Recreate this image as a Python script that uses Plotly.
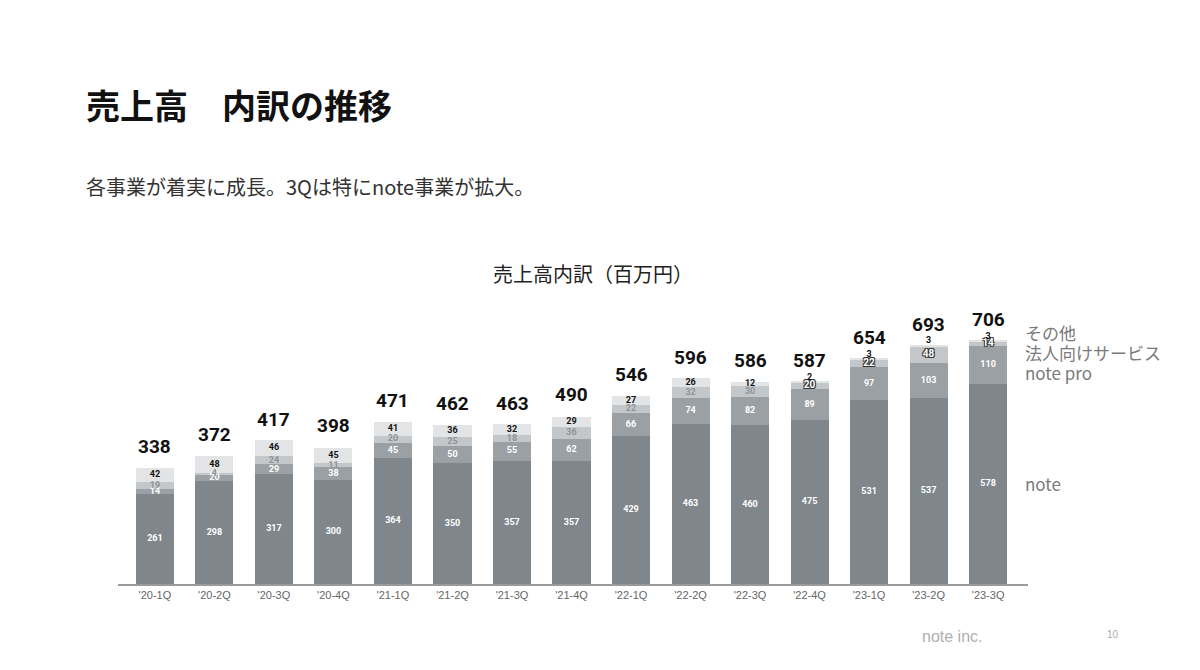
import plotly.graph_objects as go

quarters = ["'20-1Q", "'20-2Q", "'20-3Q", "'20-4Q", "'21-1Q", "'21-2Q", "'21-3Q", "'21-4Q",
            "'22-1Q", "'22-2Q", "'22-3Q", "'22-4Q", "'23-1Q", "'23-2Q", "'23-3Q"]
note = [261, 298, 317, 300, 364, 350, 357, 357, 429, 463, 460, 475, 531, 537, 578]
note_pro = [14, 20, 29, 38, 45, 50, 55, 62, 66, 74, 82, 89, 97, 103, 110]
corporate = [19, 4, 24, 11, 20, 25, 18, 36, 22, 32, 30, 20, 22, 48, 14]
other = [42, 48, 46, 45, 41, 36, 32, 29, 27, 26, 12, 2, 3, 3, 3]
totals = [338, 372, 417, 398, 471, 462, 463, 490, 546, 596, 586, 587, 654, 693, 706]

series_names = ["note", "note pro", "法人向けサービス", "その他"]
series_vals = [note, note_pro, corporate, other]
colors = ["#7f878c", "#9aa0a4", "#c4c7c9", "#e3e4e5"]

NUM_FONT = "Roboto"
JP_FONT = "Noto Sans CJK JP"

# page offset (browser body margin) and figure size
OFF = 8
W = 1200 - 2 * OFF
H = 670 - 2 * OFF


def px_x(p):
    return (p - OFF) / W


def px_y(p):
    return 1 - (p - OFF) / H


fig = go.Figure()

for name, vals, col in zip(series_names, series_vals, colors):
    fig.add_trace(go.Bar(x=quarters, y=vals, name=name, marker=dict(color=col, line=dict(width=0)),
                         hoverinfo="skip"))

# segment labels at segment midpoints
label_colors = ["#ffffff", "#ffffff", "#8e9397", "#111111"]
base = [0] * len(quarters)
mids_all = []
for vals in series_vals:
    mids = [b + v / 2 for b, v in zip(base, vals)]
    mids_all.append(mids)
    base = [b + v for b, v in zip(base, vals)]

OUTLINE = "1px 1px 0 #333, -1px -1px 0 #333, 1px -1px 0 #333, -1px 1px 0 #333"
split = 11
for i, (vals, mids, lc) in enumerate(zip(series_vals, mids_all, label_colors)):
    if i == 2:
        fig.add_trace(go.Scatter(x=quarters[:split], y=mids[:split], mode="text",
                                 text=[str(v) for v in vals[:split]],
                                 textfont=dict(family=NUM_FONT, size=9, color=lc, weight="bold"),
                                 hoverinfo="skip", showlegend=False))
        fig.add_trace(go.Scatter(x=quarters[split:], y=mids[split:], mode="text",
                                 text=[str(v) for v in vals[split:]],
                                 textfont=dict(family=NUM_FONT, size=10, color="#ffffff", weight="bold",
                                               shadow=OUTLINE),
                                 hoverinfo="skip", showlegend=False))
    elif i == 3:
        fig.add_trace(go.Scatter(x=quarters, y=mids, mode="text",
                                 text=[str(v) for v in vals],
                                 textposition=["middle center"] * split + ["top center"] * (len(quarters) - split),
                                 textfont=dict(family=NUM_FONT, size=9, color=lc, weight="bold"),
                                 hoverinfo="skip", showlegend=False))
    else:
        fig.add_trace(go.Scatter(x=quarters, y=mids, mode="text",
                                 text=[str(v) for v in vals],
                                 textfont=dict(family=NUM_FONT, size=9, color=lc, weight="bold"),
                                 hoverinfo="skip", showlegend=False))

for q, t in zip(quarters, totals):
    fig.add_annotation(x=q, y=t, xref="x", yref="y", text=str(t), showarrow=False,
                       yanchor="bottom", yshift=7,
                       font=dict(family=NUM_FONT, size=19, color="#111111", weight="bold"))

BASE_PX = 584
TOP_PX = 300
PX_PER_UNIT = 0.3456

fig.update_layout(
    width=W, height=H,
    margin=dict(l=0, r=0, t=0, b=0),
    plot_bgcolor="white", paper_bgcolor="white",
    barmode="stack", bargap=0.36,
    showlegend=False,
    xaxis=dict(domain=[px_x(118), px_x(1028)], range=[-0.62, 14.67], showline=True,
               linecolor="#9a9a9a", linewidth=1.5, ticks="", showgrid=False, zeroline=False,
               tickfont=dict(family="Liberation Sans", size=11, color="#666666"),
               fixedrange=True),
    yaxis=dict(domain=[px_y(BASE_PX), px_y(TOP_PX)], range=[0, (BASE_PX - TOP_PX) / PX_PER_UNIT],
               visible=False, showgrid=False, zeroline=False, fixedrange=True),
)

# right-side series labels
side_labels = [("その他", 332), ("法人向けサービス", 352), ("note pro", 372), ("note", 483)]
for txt, py in side_labels:
    fig.add_annotation(x=px_x(1023), y=px_y(py), xref="paper", yref="paper", text=txt,
                       showarrow=False, xanchor="left", yanchor="middle",
                       font=dict(family=JP_FONT, size=17, color="#7a7a7a"))

# page texts
page_texts = [
    ("売上高　内訳の推移", 84, 105, 34, "#111111", "bold", JP_FONT, "left"),
    ("各事業が着実に成長。3Qは特にnote事業が拡大。", 84, 187, 20, "#333333", "normal", JP_FONT, "left"),
    ("売上高内訳（百万円）", 593, 274, 20, "#222222", "normal", JP_FONT, "center"),
    ("note inc.", 952, 636, 16, "#b0b0b0", "normal", "Liberation Sans", "center"),
    ("10", 1113, 634, 10, "#aaaaaa", "normal", "Liberation Sans", "center"),
]
for txt, px, py, sz, col, wt, fam, anchor in page_texts:
    fig.add_annotation(x=px_x(px), y=px_y(py), xref="paper", yref="paper", text=txt,
                       showarrow=False, xanchor=anchor, yanchor="middle",
                       font=dict(family=fam, size=sz, color=col, weight=wt))

fig.write_html("out.html", config={"displayModeBar": False})
